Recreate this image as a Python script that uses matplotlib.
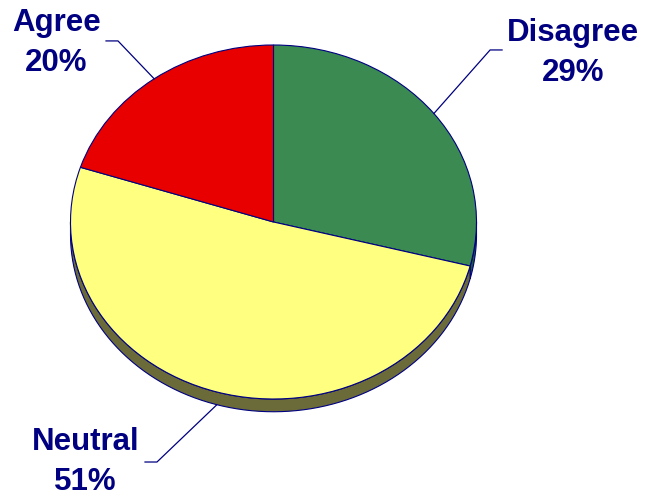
import numpy as np
import matplotlib
matplotlib.use('Agg')
import matplotlib.pyplot as plt
from matplotlib.patches import Polygon

# slices, clockwise from 12 o'clock
LABELS = ['Disagree', 'Neutral', 'Agree']
VALUES = [29, 51, 20]
COLORS = ['#3A8A52', '#FFFF80', '#E80000']
SIDE_COLORS = ['#1F5A30', '#6B6B3A', '#7A0000']

NAVY = '#000080'
DEPTH = 0.072  # thickness of the pie, in y units

plt.rcParams['font.family'] = ['Liberation Sans', 'DejaVu Sans']

fig = plt.figure(figsize=(6.45, 4.97), dpi=100)
ax = fig.add_axes([0, 0, 1, 1])

# side of the "3d" disc (only the front half is visible)
angles = []
start = 90.0
for v in VALUES:
    end = start - v / sum(VALUES) * 360
    angles.append((end, start))
    start = end

for (a0, a1), sc in zip(angles, SIDE_COLORS):
    # normalise into 0..360 and clip to the front half 180..360
    for shift in (0, 360, 720):
        lo = max(a0 + shift, 180)
        hi = min(a1 + shift, 360)
        if hi > lo:
            t = np.radians(np.linspace(lo, hi, 80))
            top = np.column_stack([np.cos(t), np.sin(t)])
            bot = np.column_stack([np.cos(t), np.sin(t) - DEPTH])[::-1]
            ax.add_patch(Polygon(np.vstack([top, bot]), closed=True, fc=sc,
                                 ec=NAVY, lw=0.8, zorder=1))

wedges, _ = ax.pie(VALUES, colors=COLORS, startangle=90, counterclock=False,
                   wedgeprops=dict(edgecolor=NAVY, linewidth=0.8))
for w in wedges:
    w.set_zorder(2)

# labels with leader lines (bend point, then short horizontal tick)
label_pos = {'Agree': (-1.07, 1.013), 'Disagree': (1.475, 0.955), 'Neutral': (-0.925, -1.355)}
elbow = {'Agree': (-0.766, 1.023), 'Disagree': (1.067, 0.972), 'Neutral': (-0.574, -1.356)}
elbow_end = {'Agree': (-0.825, 1.023), 'Disagree': (1.126, 0.972), 'Neutral': (-0.633, -1.356)}

for (a0, a1), lab, v in zip(angles, LABELS, VALUES):
    mid = np.radians((a0 + a1) / 2)
    ex, ey = np.cos(mid), np.sin(mid)
    if ey < 0:
        ey -= DEPTH
    bx, by = elbow[lab]
    hx, hy = elbow_end[lab]
    ax.plot([ex, bx, hx], [ey, by, hy], color=NAVY, lw=0.9, zorder=3)
    tx, ty = label_pos[lab]
    ax.text(tx, ty, f'{lab}\n{v}%', ha='center', va='center', fontsize=22.5,
            fontweight='bold', color=NAVY, linespacing=1.42)

ax.set_aspect('auto')
ax.set_xlim(-273.5 / 203, (645 - 273.5) / 203)
ax.set_ylim(-(497 - 222) / 177, 222 / 177)
ax.axis('off')

fig.savefig('out.png', dpi=100)
